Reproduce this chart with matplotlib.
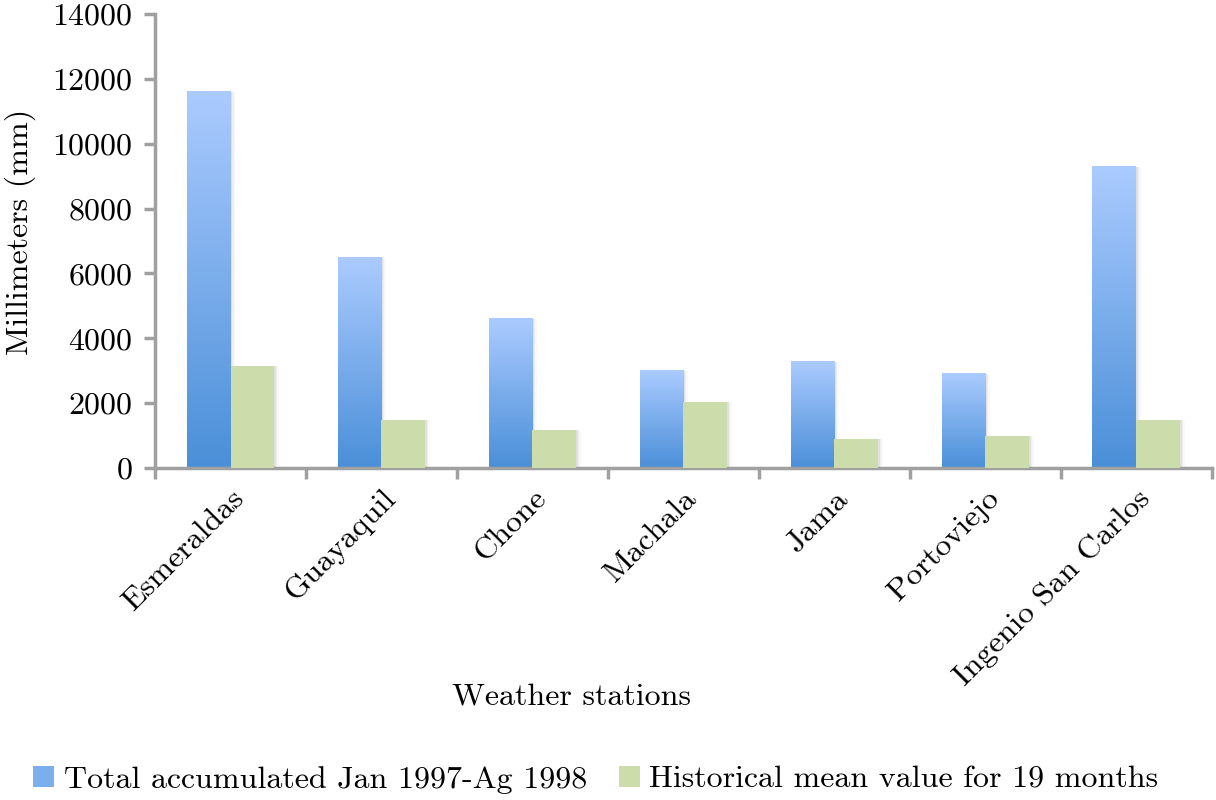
import numpy as np
import matplotlib
matplotlib.use("Agg")
import matplotlib.pyplot as plt
from matplotlib.colors import LinearSegmentedColormap
from matplotlib.patches import Patch, Rectangle

stations = ["Esmeraldas", "Guayaquil", "Chone", "Machala", "Jama",
            "Portoviejo", "Ingenio San Carlos"]
total_accum = [11600, 6500, 4600, 3000, 3270, 2900, 9300]
hist_mean = [3150, 1480, 1170, 2040, 890, 990, 1480]

plt.rcParams['font.family'] = ['cmr10', 'DejaVu Serif']
plt.rcParams['axes.formatter.use_mathtext'] = True
plt.rcParams['font.size'] = 23

grey = '#a0a0a0'
green = '#cddcab'
blue_cmap = LinearSegmentedColormap.from_list('bl', ['#4a8fd8', '#abcbff'])
grad = np.linspace(0, 1, 256).reshape(-1, 1)

fig = plt.figure(figsize=(12.16, 8), dpi=100)
ax = fig.add_axes([0.1275, 0.415, 0.869, 0.5675])

x = np.arange(len(stations))
w = 0.29

bars1 = ax.bar(x - w / 2, total_accum, w, color='none', zorder=2)
bars2 = ax.bar(x + w / 2, hist_mean, w, color=green, zorder=3)

# soft shadow to the right of each bar
for bar in list(bars1) + list(bars2):
    bx, bw, bh = bar.get_x(), bar.get_width(), bar.get_height()
    for k, alpha in [(0.01, 0.06), (0.02, 0.04), (0.03, 0.025)]:
        ax.add_patch(Rectangle((bx + k, 0), bw, bh - k * 300,
                               color='k', alpha=alpha, lw=0, zorder=1))

# gradient fill for the blue bars
for bar in bars1:
    bx, bw, bh = bar.get_x(), bar.get_width(), bar.get_height()
    ax.imshow(grad, cmap=blue_cmap, origin='lower', aspect='auto',
              extent=[bx, bx + bw, 0, bh], zorder=2, interpolation='bilinear')

ax.set_xlim(-0.5, len(stations) - 0.5)
ax.set_ylim(0, 14000)
ax.set_yticks(range(0, 14001, 2000))
ax.set_xticks(np.arange(-0.5, len(stations), 1.0))
ax.set_xticklabels([])
ax.set_xticks(x, minor=True)
ax.set_xticklabels(stations, minor=True, rotation=45, ha='right',
                   rotation_mode='anchor')
ax.tick_params(axis='x', which='minor', length=0, pad=12)
ax.tick_params(axis='both', which='major', length=8, width=2.5,
               color=grey, direction='out')
ax.tick_params(axis='y', pad=8)

for s in ['top', 'right']:
    ax.spines[s].set_visible(False)
for s in ['left', 'bottom']:
    ax.spines[s].set_color(grey)
    ax.spines[s].set_linewidth(2.5)

fig.text(0.017, 0.71, 'Millimeters (mm)', rotation=90, ha='center', va='center')
fig.text(0.470, 0.129, 'Weather stations', ha='center', va='center')

handles = [Patch(facecolor='#7aaeec'), Patch(facecolor=green)]
fig.legend(handles, ['Total accumulated Jan 1997-Ag 1998',
                     'Historical mean value for 19 months'],
           loc='lower center', bbox_to_anchor=(0.49, -0.028), ncol=2,
           frameon=False, handlelength=0.65, handleheight=0.65,
           handletextpad=0.3, columnspacing=1.0)

fig.savefig('out.png', dpi=100)
